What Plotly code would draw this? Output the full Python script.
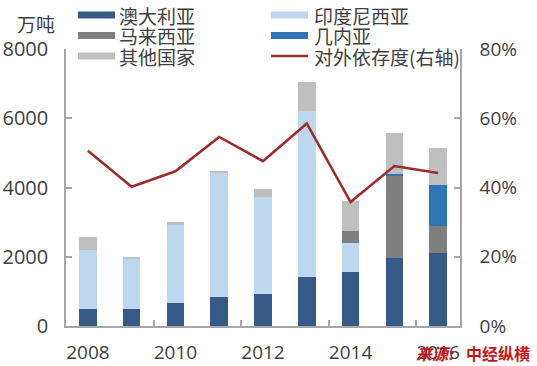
import plotly.graph_objects as go

years = [2008, 2009, 2010, 2011, 2012, 2013, 2014, 2015, 2016]
australia = [490, 490, 650, 830, 925, 1415, 1550, 1960, 2110]
indonesia = [1700, 1460, 2280, 3590, 2800, 4790, 860, 0, 0]
malaysia = [0, 0, 0, 0, 0, 0, 320, 2380, 770]
guinea = [0, 0, 0, 0, 0, 0, 0, 60, 1180]
others = [375, 20, 70, 30, 220, 840, 885, 1175, 1085]
dependency = [0.506, 0.402, 0.447, 0.546, 0.476, 0.585, 0.358, 0.462, 0.442]

bar_names = ["澳大利亚", "印度尼西亚", "马来西亚", "几内亚", "其他国家"]
bar_colors = ["#355A88", "#BDD7EE", "#7F7F7F", "#2E75B6", "#BFBFBF"]
line_name = "对外依存度(右轴)"
line_color = "#9E2A2B"
x_labels = ["2008", "2010", "2012", "2014", "2016"]

W, H = 537, 366
ML, MR, MT, MB = 66, 77, 49, 40
PW, PH = W - ML - MR, H - MT - MB

def px(x):
    return (x - ML) / PW

def py(y):
    return (H - MB - y) / PH

FONT = "Open Sans, Noto Sans CJK SC, sans-serif"
CJK = "Noto Sans CJK SC, sans-serif"
TXT = "#404040"
AX = "#A6A6A6"
SRC = "#C8161D"

fig = go.Figure()
for name, vals, col in zip(bar_names, [australia, indonesia, malaysia, guinea, others], bar_colors):
    fig.add_trace(go.Bar(x=years, y=vals, name=name, marker=dict(color=col, line=dict(width=0)),
                         width=0.4, showlegend=False))
fig.add_trace(go.Scatter(x=years, y=dependency, name=line_name, yaxis="y2", mode="lines",
                         line=dict(color=line_color, width=2.6), showlegend=False))

# custom legend (shapes + annotations)
shapes = []
annotations = []
rows = [15, 35.5, 56]
cols = [(78, 117), (271, 312)]
entries = list(zip(bar_names, bar_colors)) + [(line_name, None)]
for i, (name, col) in enumerate(entries):
    r, c = divmod(i, 2)
    sx, tx = cols[c]
    yc = rows[r]
    if col is not None:
        shapes.append(dict(type="rect", xref="paper", yref="paper", x0=px(sx), x1=px(sx + 37),
                           y0=py(yc + 3.5), y1=py(yc - 3.5), fillcolor=col, line=dict(width=0)))
    else:
        shapes.append(dict(type="line", xref="paper", yref="paper", x0=px(sx), x1=px(sx + 37),
                           y0=py(yc), y1=py(yc), line=dict(color=line_color, width=2.6)))
    annotations.append(dict(text=name, xref="paper", yref="paper", x=px(tx), y=py(yc),
                            xanchor="left", yanchor="middle", showarrow=False,
                            font=dict(family=CJK, size=19, color=TXT)))

annotations.append(dict(text="万吨", xref="paper", yref="paper", x=px(15), y=py(23),
                        xanchor="left", yanchor="middle", showarrow=False,
                        font=dict(family=CJK, size=19, color=TXT)))
annotations.append(dict(text="<b><i>来源:</i></b>", xref="paper", yref="paper", x=px(414), y=py(353),
                        xanchor="left", yanchor="middle", showarrow=False,
                        font=dict(family=CJK, size=16, color=SRC)))
annotations.append(dict(text="<b>中经纵横</b>", xref="paper", yref="paper", x=px(464), y=py(353),
                        xanchor="left", yanchor="middle", showarrow=False,
                        font=dict(family=CJK, size=16, color=SRC)))

fig.update_layout(
    width=W, height=H,
    margin=dict(l=ML, r=MR, t=MT, b=MB, autoexpand=False),
    paper_bgcolor="white", plot_bgcolor="white",
    barmode="stack", bargap=0.6,
    showlegend=False,
    font=dict(family=FONT, size=19, color=TXT),
    xaxis=dict(range=[2007.5, 2016.5], tickvals=[int(v) for v in x_labels], ticktext=x_labels,
               ticks="", showline=True, linecolor=AX, linewidth=1.5, showgrid=False, zeroline=False,
               ticklabelstandoff=8, tickfont=dict(size=19, color=TXT),
               minor=dict(tickvals=[2009.5, 2011.5, 2013.5, 2015.5], ticks="inside", ticklen=6,
                          tickcolor=AX, tickwidth=1.5, showgrid=False)),
    yaxis=dict(range=[0, 8000], tickvals=[0, 2000, 4000, 6000, 8000], ticks="inside", ticklen=6,
               tickcolor=AX, tickwidth=1.5, showline=True, linecolor=AX, linewidth=1.5,
               showgrid=False, zeroline=False, ticklabelstandoff=12, tickfont=dict(size=20, color=TXT)),
    yaxis2=dict(range=[0, 0.8], tickvals=[0, 0.2, 0.4, 0.6, 0.8], tickformat=".0%", overlaying="y",
                side="right", ticks="inside", ticklen=6, tickcolor=AX, tickwidth=1.5, showline=True,
                linecolor=AX, linewidth=1.5, showgrid=False, zeroline=False, ticklabelstandoff=14,
                tickfont=dict(size=19, color=TXT)),
    shapes=shapes, annotations=annotations,
)

fig.write_html("out.html", config={"displayModeBar": False},
               post_script="document.body.style.margin='0';document.body.style.overflow='hidden';")
